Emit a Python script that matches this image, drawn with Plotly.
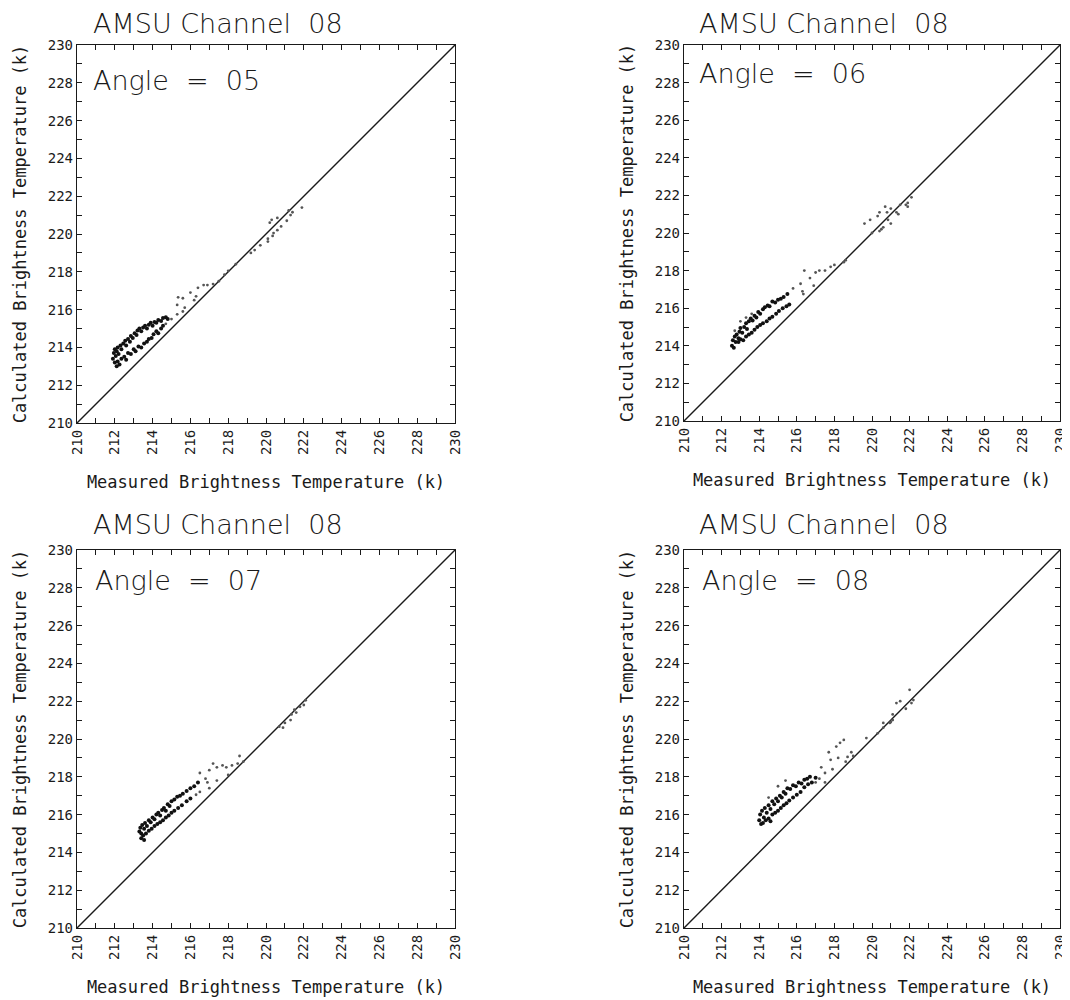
import plotly.graph_objects as go

# ---------------- data ----------------
channel_title = "AMSU Channel  08"
angles = ["05", "06", "07", "08"]
axis_range = [210, 230]
diag = [210, 230]

# Angle 05
x05_core = [211.9, 211.95, 212.0, 212.0, 212.05, 212.1, 212.15, 212.2, 212.3, 212.35, 212.45, 212.55, 212.6, 212.7, 212.8,
            212.85, 212.95, 213.05, 213.15, 213.2, 213.3, 213.4, 213.5, 213.6, 213.7, 213.8, 213.9, 214.0, 214.1, 214.2,
            214.3, 214.45, 214.55, 214.7, 214.8,
            212.1, 212.15, 212.25, 212.35, 212.5, 212.6, 212.7, 212.85, 213.0, 213.1, 213.25, 213.4, 213.55, 213.7, 213.8,
            213.95, 214.05, 214.2, 214.3, 214.45, 214.55]
y05_core = [213.4, 213.7, 213.9, 213.2, 213.55, 213.8, 214.0, 213.65, 214.1, 213.9, 214.2, 214.35, 214.1, 214.45, 214.3,
            214.6, 214.5, 214.75, 214.65, 214.9, 215.0, 214.85, 215.05, 215.15, 215.0, 215.2, 215.3, 215.15, 215.35, 215.3,
            215.45, 215.4, 215.55, 215.6, 215.5,
            213.0, 213.25, 213.1, 213.4, 213.5, 213.35, 213.7, 213.65, 213.9, 213.8, 214.05, 214.0, 214.2, 214.3, 214.45,
            214.5, 214.7, 214.85, 214.75, 215.0, 215.15]
x05_sparse = [214.7, 215.0, 215.3, 215.6, 215.7, 215.3, 215.35, 215.6, 216.0, 216.2, 216.3, 216.4, 216.7, 216.9, 217.2,
              217.5, 217.8, 218.0, 218.4, 219.2, 219.4, 219.7, 220.1, 220.1, 220.35, 220.4, 220.6, 220.8, 221.1, 220.2,
              220.3, 220.6, 221.3, 221.4, 221.9, 221.2]
y05_sparse = [215.25, 215.5, 215.75, 215.9, 216.1, 216.25, 216.65, 216.6, 216.9, 216.5, 216.7, 217.15, 217.3, 217.3, 217.35,
              217.5, 217.85, 218.05, 218.4, 219.0, 219.15, 219.4, 219.6, 219.75, 219.9, 220.05, 220.2, 220.4, 220.7, 220.6,
              220.75, 220.85, 221.0, 221.15, 221.4, 221.25]

# Angle 06
x06_core = [212.55, 212.6, 212.65, 212.7, 212.75, 212.8, 212.9, 212.95, 213.0, 213.1, 213.2, 213.3, 213.35, 213.45, 213.55,
            213.65, 213.75, 213.85, 213.95, 214.05, 214.2, 214.3, 214.45, 214.55, 214.7, 214.85, 215.0, 215.15, 215.3, 215.5,
            212.9, 213.0, 213.15, 213.3, 213.45, 213.6, 213.75, 213.9, 214.05, 214.2, 214.4, 214.55, 214.7, 214.9, 215.05,
            215.25, 215.45, 215.6]
y06_core = [214.0, 214.3, 213.9, 214.5, 214.2, 214.6, 214.4, 214.75, 214.95, 214.7, 215.0, 215.2, 214.9, 215.3, 215.45,
            215.35, 215.6, 215.5, 215.8, 215.7, 215.95, 216.05, 216.15, 216.1, 216.35, 216.3, 216.45, 216.5, 216.6, 216.75,
            214.2, 214.35, 214.3, 214.5, 214.6, 214.7, 214.85, 215.0, 215.1, 215.2, 215.3, 215.45, 215.55, 215.7, 215.85,
            216.0, 216.1, 216.2]
x06_sparse = [215.8, 216.2, 216.3, 216.35, 216.4, 216.7, 216.9, 217.0, 217.2, 217.5, 217.8, 218.0, 218.5, 218.6, 219.6,
              219.9, 220.3, 220.4, 220.7, 220.8, 221.0, 221.3, 221.4, 221.5, 221.8, 221.9, 221.9, 222.1, 220.85, 221.0,
              220.5, 220.4, 220.0, 220.6, 212.7, 213.0, 213.3, 213.6]
y06_sparse = [217.05, 217.3, 216.9, 216.75, 218.0, 217.6, 217.2, 217.9, 218.0, 218.0, 218.2, 218.3, 218.45, 218.55, 220.5,
              220.7, 220.9, 221.1, 221.4, 221.1, 221.3, 221.1, 221.0, 221.5, 221.5, 221.6, 221.4, 221.9, 220.7, 220.5,
              220.2, 220.1, 220.0, 220.3, 214.8, 215.3, 215.5, 215.7]

# Angle 07
x07_core = [213.3, 213.35, 213.4, 213.45, 213.55, 213.6, 213.7, 213.8, 213.9, 214.0, 214.1, 214.2, 214.3, 214.4, 214.5,
            214.6, 214.7, 214.8, 214.9, 215.0, 215.15, 215.3, 215.45, 215.6, 215.8, 216.0, 216.2, 216.4,
            213.4, 213.5, 213.55, 213.65, 213.8, 213.95, 214.1, 214.25, 214.4, 214.55, 214.7, 214.85, 215.0, 215.15, 215.35,
            215.55, 215.8, 216.0]
y07_core = [215.1, 215.3, 215.0, 215.45, 215.25, 215.55, 215.4, 215.7, 215.6, 215.85, 215.75, 216.0, 216.1, 215.95, 216.25,
            216.35, 216.2, 216.55, 216.45, 216.7, 216.8, 216.95, 217.0, 217.1, 217.25, 217.4, 217.5, 217.7,
            214.75, 214.9, 214.65, 215.0, 215.15, 215.25, 215.4, 215.5, 215.6, 215.7, 215.85, 215.95, 216.1, 216.2, 216.35,
            216.5, 216.7, 216.85]
x07_sparse = [216.5, 216.8, 217.0, 217.2, 217.4, 217.7, 217.9, 218.2, 218.5, 218.6, 216.9, 217.4, 216.5, 216.3, 217.0,
              218.0, 218.8, 220.9, 221.0, 221.3, 221.35, 221.6, 221.8, 222.0, 222.1, 221.5, 220.7]
y07_sparse = [218.2, 217.9, 218.35, 218.7, 218.5, 218.6, 218.5, 218.6, 218.7, 219.1, 217.7, 217.8, 217.2, 217.05, 217.4,
              218.1, 218.8, 220.6, 220.85, 221.0, 221.3, 221.4, 221.7, 221.8, 222.05, 221.55, 220.65]

# Angle 08
x08_core = [214.0, 214.05, 214.1, 214.15, 214.25, 214.3, 214.4, 214.5, 214.6, 214.7, 214.8, 214.9, 215.0, 215.1, 215.2,
            215.3, 215.4, 215.5, 215.65, 215.8, 215.95, 216.1, 216.25, 216.4, 216.55, 216.7,
            214.2, 214.35, 214.5, 214.6, 214.7, 214.85, 215.0, 215.15, 215.3, 215.45, 215.6, 215.8, 216.0, 216.2, 216.4,
            216.6, 216.8, 217.0]
y08_core = [215.7, 216.0, 215.5, 216.2, 215.85, 216.35, 216.1, 216.5, 216.3, 216.7, 216.55, 216.85, 216.7, 217.0, 216.9,
            217.2, 217.1, 217.4, 217.35, 217.55, 217.5, 217.7, 217.65, 217.85, 217.9, 218.0,
            215.55, 215.7, 215.8, 215.65, 216.0, 216.1, 216.2, 216.35, 216.5, 216.6, 216.75, 216.9, 217.05, 217.2, 217.45,
            217.6, 217.7, 217.95]
x08_sparse = [217.2, 217.0, 217.5, 217.3, 217.5, 217.7, 217.8, 217.9, 218.1, 218.2, 218.3, 218.5, 218.7, 218.9, 218.6,
              219.0, 219.7, 220.3, 220.6, 220.6, 220.95, 221.0, 221.1, 221.1, 221.3, 221.5, 222.0, 222.1, 222.2, 221.8,
              215.0, 215.4, 214.5]
y08_sparse = [217.9, 217.7, 217.7, 218.5, 218.2, 219.3, 218.9, 218.4, 219.6, 219.0, 219.8, 219.95, 219.05, 219.3, 218.8,
              219.1, 220.05, 220.3, 220.6, 220.85, 220.85, 220.9, 221.0, 221.3, 221.9, 222.0, 222.6, 221.9, 222.06, 221.6,
              217.5, 217.8, 216.9]

# ---------------- figure ----------------
panels = [
    (angles[0], x05_core, y05_core, x05_sparse, y05_sparse),
    (angles[1], x06_core, y06_core, x06_sparse, y06_sparse),
    (angles[2], x07_core, y07_core, x07_sparse, y07_sparse),
    (angles[3], x08_core, y08_core, x08_sparse, y08_sparse),
]

OFF = 8  # default page body margin
W, H = 1070 - OFF, 1000 - OFF
# pixel boxes of the four plot areas in window pixels (left, top, right, bottom)
boxes = [(77, 45, 455, 423), (684, 45, 1060, 421), (77, 550, 455, 928), (684, 550, 1060, 928)]
title_pos = [(91, 23), (697, 23), (91, 524), (697, 524)]
angle_pos = [(91, 80), (697, 73), (93, 580), (700, 580)]

ink = "#1a1a1a"
mono = "DejaVu Sans Mono"
label_font = "DejaVu Sans"


def px(xp):
    return (xp - OFF) / W


def py(yp):
    return 1 - (yp - OFF) / H


fig = go.Figure()
layout = dict(width=W, height=H, margin=dict(l=0, r=0, t=0, b=0, autoexpand=False),
              paper_bgcolor="white", plot_bgcolor="white", showlegend=False, annotations=[])

for i, (ang, xc, yc, xs, ys) in enumerate(panels):
    n = "" if i == 0 else str(i + 1)
    xa, ya = "x" + n, "y" + n
    l, t, r, b = boxes[i]
    dom_x = [px(l), px(r)]
    dom_y = [py(b), py(t)]
    fig.add_trace(go.Scatter(x=diag, y=diag, mode="lines", line=dict(color=ink, width=1.4),
                             xaxis=xa, yaxis=ya, hoverinfo="skip"))
    fig.add_trace(go.Scatter(x=xs, y=ys, mode="markers", marker=dict(size=2.8, color="#555"),
                             xaxis=xa, yaxis=ya))
    fig.add_trace(go.Scatter(x=xc, y=yc, mode="markers", marker=dict(size=4, color="#111"),
                             xaxis=xa, yaxis=ya))
    common = dict(range=axis_range, showgrid=False, zeroline=False, showline=True, linecolor=ink, linewidth=1.4,
                  mirror="ticks", ticks="inside", ticklen=5, tickcolor=ink, tickwidth=1, dtick=2, tick0=210,
                  minor=dict(ticks="inside", ticklen=5, dtick=1, tickcolor=ink, showgrid=False),
                  tickfont=dict(family=mono, size=14, color=ink), fixedrange=True, automargin=False)
    layout["xaxis" + n] = dict(common, domain=dom_x, anchor=ya, tickangle=-90,
                               title=dict(text="Measured Brightness Temperature (k)",
                                          font=dict(family=mono, size=17, color=ink), standoff=22))
    layout["yaxis" + n] = dict(common, domain=dom_y, anchor=xa,
                               title=dict(text="Calculated Brightness Temperature (k)",
                                          font=dict(family=mono, size=17, color=ink), standoff=16))
    tx, ty = title_pos[i]
    layout["annotations"].append(dict(text=channel_title, x=px(tx), y=py(ty), xref="paper", yref="paper",
                                      xanchor="left", yanchor="middle", showarrow=False,
                                      font=dict(family=label_font, size=27, color=ink, weight=300)))
    axx, axy = angle_pos[i]
    layout["annotations"].append(dict(text="Angle  =  " + ang, x=px(axx), y=py(axy), xref="paper", yref="paper",
                                      xanchor="left", yanchor="middle", showarrow=False,
                                      font=dict(family=label_font, size=27, color=ink, weight=300)))

fig.update_layout(**layout)
fig.write_html("out.html")
